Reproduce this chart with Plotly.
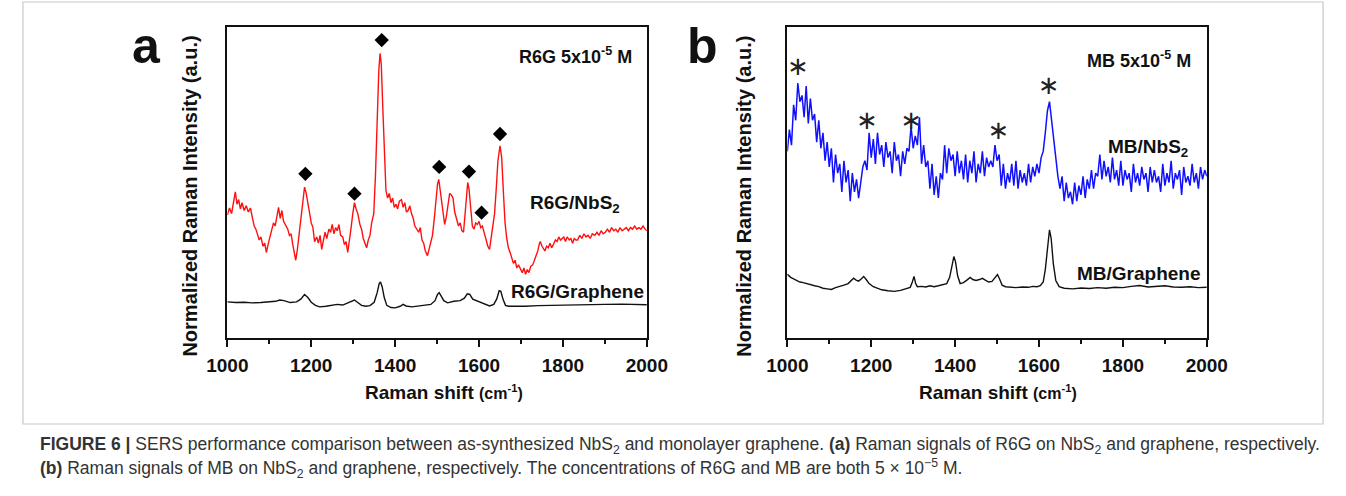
import plotly.graph_objects as go

W, H = 1346, 496

# ---------------- Panel (a): R6G ----------------
r6g_nbs2_x = [1000,1005,1010,1015,1019,1023,1027,1031,1035,1040,1045,1050,1055,1060,1064,1068,1072,1076,1080,1085,
              1089,1093,1097,1101,1105,1110,1114,1118,1122,1126,1130,1134,1139,1144,1148,1152,1156,1160,1163,1167,
              1171,1175,1179,1184,1188,1192,1196,1200,1204,1208,1213,1217,1221,1225,1229,1233,1237,1242,1246,1250,
              1254,1258,1262,1266,1270,1275,1279,1283,1287,1291,1295,1299,1303,1307,1311,1316,1320,1324,1328,1332,
              1336,1340,1344,1349,1353,1357,1361,1364,1367,1370,1374,1378,1382,1386,1390,1394,1398,1402,1406,1410,
              1415,1419,1423,1427,1431,1435,1439,1443,1447,1452,1456,1460,1464,1468,1472,1477,1481,1485,1489,1493,
              1497,1501,1504,1507,1511,1515,1518,1522,1526,1530,1534,1538,1542,1547,1551,1555,1559,1563,1567,1571,
              1573,1576,1580,1584,1588,1592,1596,1600,1604,1608,1613,1617,1621,1625,1629,1633,1637,1641,1645,1650,
              1654,1658,1662,1666,1670,1674,1678,1682,1686,1690,1694,1699,1703,1707,1711,1715,1719,1723,1728,1732,
              1736,1740,1744,1746,1750,1754,1757,1761,1765,1769,1773,1777,1782,1786,1790,1794,1798,1802,1806,1810,
              1815,1819,1823,1827,1831,1835,1840,1845,1850,1855,1860,1865,1870,1876,1881,1886,1891,1896,1901,1906,
              1911,1916,1921,1926,1931,1936,1941,1946,1951,1956,1961,1966,1971,1976,1981,1986,1991,1996,2000]
r6g_nbs2_y = [39.5,41.8,40.0,44.5,47.0,43.0,44.5,41.5,43.5,41.0,42.5,40.5,41.8,38.5,36.0,35.0,33.0,31.5,32.5,29.5,
              30.5,27.5,30.0,32.5,34.5,37.0,36.0,39.0,42.0,38.5,41.0,37.5,36.0,35.0,33.0,33.5,30.0,27.0,25.0,28.5,
              33.0,38.0,43.0,48.5,46.5,43.5,40.0,37.0,35.5,31.0,32.5,30.5,33.0,28.5,31.5,34.0,32.0,35.0,34.0,36.5,
              33.5,35.5,34.5,36.5,33.0,32.5,30.0,31.0,27.5,31.0,35.5,40.0,43.5,41.5,40.0,36.5,35.0,32.0,30.5,29.0,
              31.5,33.0,37.0,40.0,52.0,70.0,86.0,91.5,88.0,76.0,58.0,47.5,45.0,46.5,43.5,45.0,42.0,43.0,41.5,44.0,
              44.5,42.0,43.5,40.5,41.0,42.5,40.0,38.5,36.0,35.0,34.0,35.5,31.5,30.5,28.0,26.5,29.0,31.5,33.0,38.0,
              45.0,49.5,51.0,48.0,43.0,38.5,36.5,39.0,43.0,46.5,46.0,45.0,40.5,38.0,36.0,37.0,34.5,34.0,40.0,47.5,
              50.0,48.0,42.0,36.0,35.0,37.0,36.5,37.5,35.5,36.0,33.5,31.0,29.5,28.5,32.0,36.0,40.0,48.0,57.0,61.8,
              58.0,47.0,37.0,32.0,29.0,27.5,25.5,24.0,25.0,22.5,23.5,22.0,21.0,22.5,20.5,22.0,21.0,23.0,23.5,25.0,
              26.5,28.0,30.5,31.0,29.5,28.5,28.0,29.5,29.0,30.5,29.0,30.0,31.5,31.0,32.5,31.5,32.0,32.5,31.0,32.5,
              31.5,32.0,30.5,32.0,31.5,31.5,33.0,32.0,33.5,32.5,33.0,32.0,33.5,33.0,34.0,33.0,34.5,33.5,34.0,35.0,
              34.0,35.5,34.5,35.0,34.0,35.5,34.5,35.0,35.5,34.5,35.5,35.0,36.0,35.0,35.5,35.0,36.0,35.0,34.5]

r6g_gr_x = [1000,1020,1040,1060,1080,1100,1115,1125,1135,1150,1165,1175,1184,1192,1200,1210,1220,1235,1250,1262,
            1275,1288,1298,1303,1310,1320,1330,1340,1350,1357,1362,1365,1369,1374,1380,1390,1400,1412,1419,1426,
            1440,1455,1470,1485,1495,1501,1505,1510,1516,1525,1540,1555,1565,1572,1578,1585,1595,1605,1615,1625,
            1635,1642,1648,1652,1657,1663,1670,1690,1710,1740,1770,1800,1830,1860,1900,1940,1970,2000]
r6g_gr_y = [11.6,11.4,11.5,11.3,11.4,11.6,11.8,12.2,12.0,11.4,11.6,12.5,14.0,13.0,11.5,10.5,10.0,10.2,10.5,10.8,
            10.6,11.3,12.0,12.2,11.5,10.5,10.2,10.4,11.5,14.5,17.5,18.0,16.5,13.0,10.5,9.8,9.7,10.2,10.8,10.3,
            10.0,10.2,10.4,10.8,12.0,14.0,14.6,13.5,12.0,11.3,11.8,12.0,12.8,14.2,14.0,12.5,12.0,11.5,10.8,10.3,
            10.8,12.5,15.2,15.0,12.5,10.5,10.2,10.1,10.2,10.4,10.5,10.7,10.8,10.9,10.8,10.9,10.8,10.7]

r6g_mark_x = [1186, 1303, 1368, 1505, 1576, 1606, 1650]
r6g_mark_y = [52.8, 46.4, 95.8, 55.0, 53.5, 40.3, 65.6]

# ---------------- Panel (b): MB ----------------
mb_nbs2_x = list(range(1000, 2001, 5))
mb_nbs2_y = [60,67,62,75,70,82,76,78,71,81,69,77,70,72,63,70,61,66,57,63,
             55,61,50,59,53,56,47,57,50,54,44,53,47,51,45,50,55,57,54,66,
             58,64,56,66,59,62,55,63,58,60,53,63,57,59,52,60,56,61,60,68,
             61,65,62,71,56,62,55,57,48,56,46,52,45,53,51,62,53,61,57,59,
             52,60,53,57,51,59,50,57,53,60,50,56,53,60,52,58,55,57,55,62,
             57,59,49,56,48,53,50,56,49,57,48,54,50,53,49,56,50,55,52,56,
             53,58,60,66,73,76,70,62,56,52,48,52,44,50,45,47,43,50,44,49,
             46,52,45,51,48,54,48,53,52,59,51,57,52,55,50,58,51,54,49,57,
             49,54,51,53,47,56,50,53,49,55,51,53,47,55,50,54,50,52,47,56,
             49,53,50,57,48,53,51,54,46,55,50,52,49,56,50,53,48,55,51,54,
             52]

mb_gr_x = [1000,1008,1015,1022,1030,1038,1045,1055,1065,1075,1085,1095,1105,1115,1125,1135,1145,1152,1158,1164,
           1170,1176,1182,1188,1195,1205,1215,1225,1240,1255,1270,1285,1293,1298,1302,1306,1310,1320,1330,1340,
           1350,1360,1370,1380,1387,1393,1397,1401,1406,1412,1420,1428,1436,1442,1450,1458,1465,1472,1480,1488,
           1495,1501,1506,1512,1520,1530,1545,1560,1575,1585,1595,1603,1610,1615,1620,1625,1629,1634,1640,1648,
           1660,1680,1700,1720,1740,1760,1780,1800,1820,1840,1860,1880,1900,1920,1940,1960,1980,2000]
mb_gr_y = [20.5,19.5,19.0,18.5,18.0,17.8,17.5,17.2,16.8,16.5,16.0,15.8,15.6,16.2,16.5,17.0,17.5,18.5,19.2,18.6,
           18.3,19.0,19.8,18.8,17.5,16.5,16.0,15.5,15.2,15.0,15.3,16.0,16.3,18.0,19.8,17.5,16.5,16.6,16.4,16.8,
           16.5,16.8,17.2,17.5,19.5,24.0,26.2,24.5,20.0,17.5,17.8,18.6,19.5,18.8,18.5,18.8,19.2,18.6,18.0,18.2,
           19.2,20.4,19.0,17.0,16.5,16.3,16.2,16.4,16.3,16.6,16.5,16.8,18.0,22.0,29.0,34.8,32.0,24.0,18.5,16.5,
           16.0,15.8,16.1,15.9,16.2,16.0,16.3,16.2,16.6,16.9,16.4,16.7,16.8,16.4,16.3,16.5,16.2,16.3]

mb_mark_x = [1025, 1190, 1295, 1503, 1623]
mb_mark_y = [86.8, 69.3, 69.3, 66.0, 80.5]

x_ticks = [1000, 1200, 1400, 1600, 1800, 2000]
x_minor = [1100, 1300, 1500, 1700, 1900]

FONT = "Liberation Sans, Arial, sans-serif"

fig = go.Figure()
fig.add_trace(go.Scatter(x=r6g_nbs2_x, y=r6g_nbs2_y, mode="lines", line=dict(color="#ff1010", width=1.4),
                         xaxis="x", yaxis="y", showlegend=False))
fig.add_trace(go.Scatter(x=r6g_gr_x, y=r6g_gr_y, mode="lines", line=dict(color="#111111", width=1.4),
                         xaxis="x", yaxis="y", showlegend=False))
fig.add_trace(go.Scatter(x=r6g_mark_x, y=r6g_mark_y, mode="markers",
                         marker=dict(symbol="diamond", size=11, color="black"),
                         xaxis="x", yaxis="y", showlegend=False))
fig.add_trace(go.Scatter(x=mb_nbs2_x, y=mb_nbs2_y, mode="lines", line=dict(color="#1010ff", width=1.5),
                         xaxis="x2", yaxis="y2", showlegend=False))
fig.add_trace(go.Scatter(x=mb_gr_x, y=mb_gr_y, mode="lines", line=dict(color="#111111", width=1.4),
                         xaxis="x2", yaxis="y2", showlegend=False))
fig.add_trace(go.Scatter(x=mb_mark_x, y=mb_mark_y, mode="text", text=["\u2217"] * len(mb_mark_x),
                         textposition="middle center",
                         textfont=dict(family="DejaVu Sans", size=26, color="#222222"),
                         xaxis="x2", yaxis="y2", showlegend=False))

def px(x):
    return x / W

def py(y):
    return 1 - y / H

xax = dict(range=[1000, 2000], tickvals=x_ticks, ticks="outside", ticklen=7, tickwidth=1.5,
           tickcolor="#111", showline=True, linecolor="#111", linewidth=1.6, mirror=True,
           showgrid=False, zeroline=False, ticklabelstandoff=2,
           tickfont=dict(family=FONT, size=19, color="#111", weight="bold"),
           minor=dict(tickvals=x_minor, ticks="outside", ticklen=4,
                      tickwidth=1.5, tickcolor="#111"))
yax = dict(range=[0, 100], showticklabels=False, ticks="", showline=True, linecolor="#111",
           linewidth=1.6, mirror=True, showgrid=False, zeroline=False)

yd = [py(338), py(27)]
fig.update_layout(
    width=W, height=H, margin=dict(l=0, r=0, t=0, b=0),
    paper_bgcolor="white", plot_bgcolor="white",
    xaxis=dict(xax, domain=[px(213), px(646)], anchor="y"),
    yaxis=dict(yax, domain=yd, anchor="x"),
    xaxis2=dict(xax, domain=[px(791), px(1224)], anchor="y2"),
    yaxis2=dict(yax, domain=yd, anchor="x2"),
)

ann = []
def A(text, x, y, size=19, xanchor="center", yanchor="middle", xref="paper", yref="paper",
      weight="bold", angle=0, color="#111", family=FONT):
    ann.append(dict(text=text, x=x, y=y, xref=xref, yref=yref, xanchor=xanchor, yanchor=yanchor,
                    showarrow=False, textangle=angle,
                    font=dict(family=family, size=size, color=color, weight=weight)))

# panel letters
A("a", px(130), py(46), size=50)
A("b", px(703), py(46), size=50)
# y titles
A("Normalized Raman Intensity (a.u.)", px(174), py(196), size=20, angle=-90)
A("Normalized Raman Intensity (a.u.)", px(746), py(196), size=20, angle=-90)
# x titles
A("Raman shift <span style='font-size:16px'>(cm<sup>-1</sup>)</span>", px(437), py(392), size=19)
A("Raman shift <span style='font-size:16px'>(cm<sup>-1</sup>)</span>", px(1008), py(392), size=19)
# in-plot labels
A("R6G 5x10<sup>-5</sup> M", 1970, 90.7, xref="x", yref="y", xanchor="right", size=18)
A("R6G/NbS<sub>2</sub>", 1940, 43.0, xref="x", yref="y", xanchor="right", size=19)
A("R6G/Graphene", 1999, 15.1, xref="x", yref="y", xanchor="right", size=19)
A("MB 5x10<sup>-5</sup> M", 1968, 89.7, xref="x2", yref="y2", xanchor="right", size=18)
A("MB/NbS<sub>2</sub>", 1961, 61.0, xref="x2", yref="y2", xanchor="right", size=19)
A("MB/Graphene", 1991, 20.9, xref="x2", yref="y2", xanchor="right", size=19)
# caption
cap1 = ("<b>FIGURE 6 |</b> SERS performance comparison between as-synthesized NbS<sub>2</sub> and monolayer "
        "graphene. <b>(a)</b> Raman signals of R6G on NbS<sub>2</sub> and graphene, respectively.")
cap2 = ("<b>(b)</b> Raman signals of MB on NbS<sub>2</sub> and graphene, respectively. The concentrations of "
        "R6G and MB are both 5 \u00d7 10<sup>\u22125</sup> M.")
A(cap1, px(18), py(445), size=17.5, xanchor="left", weight="normal", color="#333")
A(cap2, px(18), py(468), size=17.5, xanchor="left", weight="normal", color="#333")
fig.update_layout(annotations=ann)

fig.add_shape(type="rect", xref="paper", yref="paper", x0=px(2), x1=px(1344), y0=py(424), y1=py(2),
              line=dict(color="#c8c8c8", width=1.2), layer="below")

fig.write_html("out.html")
